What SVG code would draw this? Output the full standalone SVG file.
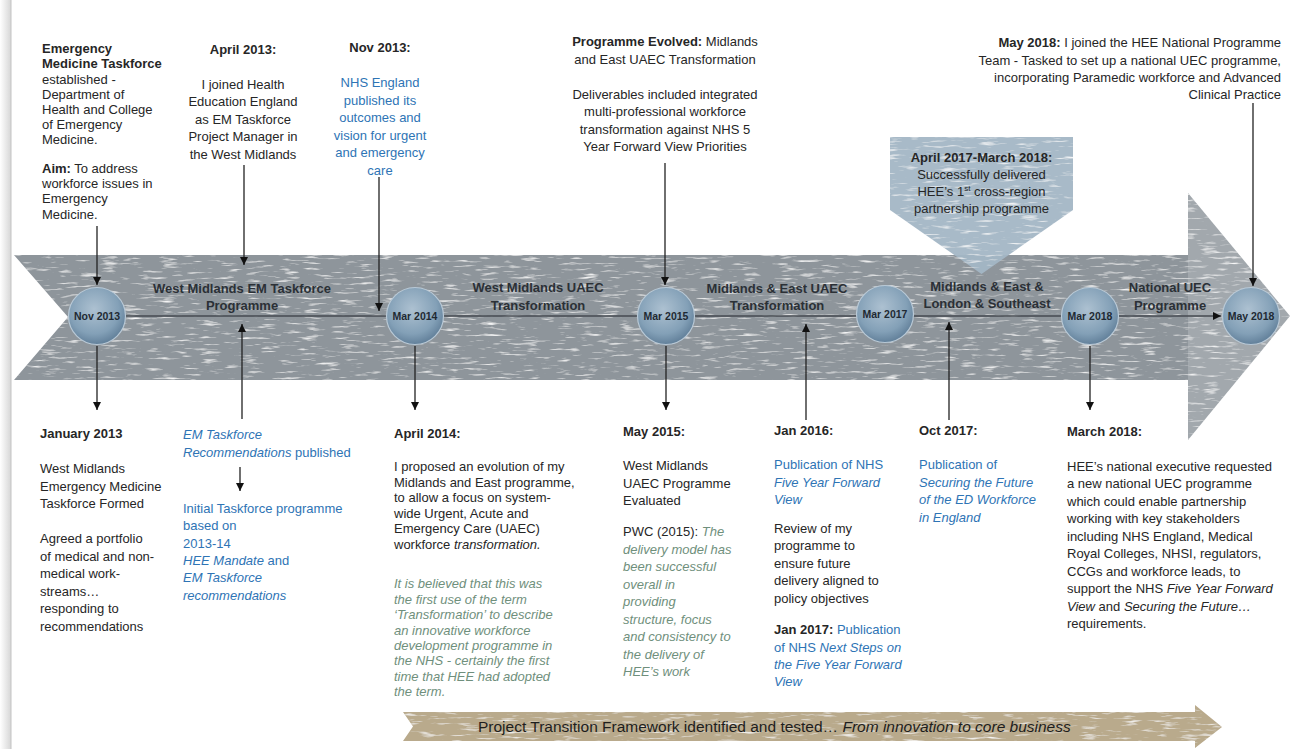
<svg xmlns="http://www.w3.org/2000/svg" width="1293" height="749" viewBox="0 0 1293 749">
<defs>
<style>
.t{font-family:"Liberation Sans",Arial,sans-serif;font-size:13px;fill:#262626}
.b{font-weight:bold}
.i{font-style:italic}
.blue{fill:#2e74b5}
.green{fill:#6f8f7c;font-style:italic}
.mid{text-anchor:middle}
.end{text-anchor:end}
.bandlbl{font-family:"Liberation Sans",Arial,sans-serif;font-size:13px;font-weight:bold;fill:#2b3036;text-anchor:middle}
.ball{font-family:"Liberation Sans",Arial,sans-serif;font-size:10.5px;font-weight:bold;fill:#1f2a33;text-anchor:middle}
.con{stroke:#222;stroke-width:1.3;fill:none;marker-end:url(#ah)}
.tl{stroke:#454a50;stroke-width:1.5;fill:none}
.circ{fill:url(#ballg);stroke:#b9c9d6;stroke-width:1.2}
</style>
<marker id="ah" viewBox="0 0 10 10" refX="10" refY="5" markerWidth="9" markerHeight="8" markerUnits="userSpaceOnUse" orient="auto">
<path d="M0,0 L10,5 L0,10 z" fill="#111"/>
</marker>
<radialGradient id="ballg" cx="45%" cy="38%" r="62%">
<stop offset="0" stop-color="#adc1d1"/>
<stop offset="0.7" stop-color="#83a0b7"/>
<stop offset="1" stop-color="#62809a"/>
</radialGradient>
<linearGradient id="shadow" x1="0" y1="0" x2="1" y2="0">
<stop offset="0" stop-color="#ffffff"/>
<stop offset="1" stop-color="#d6d6d6"/>
</linearGradient>
<filter id="tex" x="0" y="0" width="100%" height="100%">
<feTurbulence type="fractalNoise" baseFrequency="0.05 0.35" numOctaves="3" seed="11" result="n"/>
<feColorMatrix in="n" type="matrix" values="0 0 0 0 1  0 0 0 0 1  0 0 0 0 1  2.6 0 0 0 -1.5" result="w"/>
<feComposite in="w" in2="SourceGraphic" operator="in" result="wc"/>
<feMerge><feMergeNode in="SourceGraphic"/><feMergeNode in="wc"/></feMerge>
</filter>
</defs>

<rect x="0" y="0" width="1293" height="749" fill="#ffffff"/>
<rect x="0" y="0" width="11" height="749" fill="url(#shadow)"/>
<line x1="11" y1="0" x2="11" y2="749" stroke="#c4c4c4" stroke-width="1"/>

<g id="timeline-arrow" filter="url(#tex)">
<polygon points="14,255 1188,255 1188,380 14,380 68,317" fill="#8e959b"/>
<polygon points="1188,193 1290,316 1188,440" fill="#a2a8ad"/>
</g>

<g id="callout-2017" filter="url(#tex)">
<polygon points="890,137 1073,137 1073,210 981.5,274 890,210" fill="#a3b6c5" opacity="0.95"/>
</g>
<g id="callout-2017-text">
<text class="t mid" x="981.5" y="162"><tspan class="b">April 2017-March 2018:</tspan></text>
<text class="t mid" x="981.5" y="179">Successfully delivered</text>
<text class="t mid" x="981.5" y="196">HEE’s 1<tspan font-size="8" dy="-5">st</tspan><tspan dy="5"> cross-region</tspan></text>
<text class="t mid" x="981.5" y="212.5">partnership programme</text>
</g>

<g id="transition-arrow" filter="url(#tex)">
<polygon points="403,712 1195,712 1195,705 1222,727 1195,748 1195,741 403,741 413,726.5" fill="#b9aa8c"/>
</g>
<text class="t" x="478" y="732" style="font-size:15.5px;fill:#1e1e1e">Project Transition Framework identified and tested… <tspan class="i">From innovation to core business</tspan></text>

<g id="connectors">
<line class="tl" x1="126" y1="316" x2="1221" y2="316" style="marker-end:url(#ah)"/>
<line class="con" x1="97" y1="226" x2="97" y2="285"/>
<line class="con" x1="244" y1="165" x2="244" y2="265"/>
<line class="con" x1="379" y1="177" x2="379" y2="311"/>
<line class="con" x1="665" y1="163" x2="665" y2="285"/>
<line class="con" x1="1253" y1="103" x2="1253" y2="286"/>
<line class="con" x1="97" y1="346" x2="97" y2="410"/>
<line class="con" x1="415" y1="346" x2="415" y2="410"/>
<line class="con" x1="666" y1="346" x2="666" y2="410"/>
<line class="con" x1="1090" y1="346" x2="1090" y2="410"/>
<line class="con" x1="242" y1="419" x2="242" y2="324"/>
<line class="con" x1="806" y1="420" x2="806" y2="324"/>
<line class="con" x1="949" y1="420" x2="949" y2="322"/>
<line class="con" x1="240" y1="467" x2="240" y2="491"/>
</g>

<g id="band-labels">
<text class="bandlbl" x="242" y="292.5">West Midlands EM Taskforce</text>
<text class="bandlbl" x="242" y="310">Programme</text>
<text class="bandlbl" x="538" y="292">West Midlands UAEC</text>
<text class="bandlbl" x="538" y="309.5">Transformation</text>
<text class="bandlbl" x="777" y="292.5">Midlands &amp; East UAEC</text>
<text class="bandlbl" x="777" y="310">Transformation</text>
<text class="bandlbl" x="987" y="291">Midlands &amp; East &amp;</text>
<text class="bandlbl" x="987" y="308">London &amp; Southeast</text>
<text class="bandlbl" x="1170" y="291.5">National UEC</text>
<text class="bandlbl" x="1170" y="309.5">Programme</text>
</g>

<g id="node-nov2013"><circle class="circ" cx="97" cy="316" r="28.5"/><text class="ball" x="97" y="319.5">Nov 2013</text></g>
<g id="node-mar2014"><circle class="circ" cx="415" cy="316" r="28.5"/><text class="ball" x="415" y="319.5">Mar 2014</text></g>
<g id="node-mar2015"><circle class="circ" cx="666" cy="316" r="28.5"/><text class="ball" x="666" y="319.5">Mar 2015</text></g>
<g id="node-mar2017"><circle class="circ" cx="885" cy="314" r="28.5"/><text class="ball" x="885" y="317.5">Mar 2017</text></g>
<g id="node-mar2018"><circle class="circ" cx="1090" cy="316" r="28.5"/><text class="ball" x="1090" y="319.5">Mar 2018</text></g>
<g id="node-may2018"><circle class="circ" cx="1251" cy="316" r="28.5"/><text class="ball" x="1251" y="319.5">May 2018</text></g>

<g id="note-em-taskforce">
<text class="t b" x="42" y="53">Emergency</text>
<text class="t b" x="42" y="68">Medicine Taskforce</text>
<text class="t" x="42" y="83.5">established -</text>
<text class="t" x="42" y="98.5">Department of</text>
<text class="t" x="42" y="114">Health and College</text>
<text class="t" x="42" y="129">of Emergency</text>
<text class="t" x="42" y="144">Medicine.</text>
<text class="t" x="42" y="173"><tspan class="b">Aim:</tspan> To address</text>
<text class="t" x="42" y="188">workforce issues in</text>
<text class="t" x="42" y="203">Emergency</text>
<text class="t" x="42" y="218.5">Medicine.</text>
</g>

<g id="note-apr2013">
<text class="t b mid" x="243" y="54">April 2013:</text>
<text class="t mid" x="243" y="88.5">I joined Health</text>
<text class="t mid" x="243" y="106">Education England</text>
<text class="t mid" x="243" y="123.5">as EM Taskforce</text>
<text class="t mid" x="243" y="141">Project Manager in</text>
<text class="t mid" x="243" y="158.5">the West Midlands</text>
</g>

<g id="note-nov2013">
<text class="t b mid" x="380" y="52">Nov 2013:</text>
<text class="t blue mid" x="380" y="87">NHS England</text>
<text class="t blue mid" x="380" y="104.5">published its</text>
<text class="t blue mid" x="380" y="122">outcomes  and</text>
<text class="t blue mid" x="380" y="139.5">vision for urgent</text>
<text class="t blue mid" x="380" y="157">and emergency</text>
<text class="t blue mid" x="380" y="174.5">care</text>
</g>

<g id="note-programme-evolved">
<text class="t mid" x="665" y="46"><tspan class="b">Programme Evolved:</tspan> Midlands</text>
<text class="t mid" x="665" y="63.5">and East UAEC Transformation</text>
<text class="t mid" x="665" y="98.5">Deliverables included integrated</text>
<text class="t mid" x="665" y="116">multi-professional workforce</text>
<text class="t mid" x="665" y="133.5">transformation against NHS 5</text>
<text class="t mid" x="665" y="151">Year Forward View Priorities</text>
</g>

<g id="note-may2018">
<text class="t end" x="1281" y="46.5"><tspan class="b">May 2018:</tspan> I joined the HEE National Programme</text>
<text class="t end" x="1281" y="64.5">Team - Tasked to set up a national UEC programme,</text>
<text class="t end" x="1281" y="81.5">incorporating Paramedic workforce and Advanced</text>
<text class="t end" x="1281" y="99">Clinical Practice</text>
</g>

<g id="note-jan2013">
<text class="t b" x="40" y="438">January 2013</text>
<text class="t" x="40" y="473">West Midlands</text>
<text class="t" x="40" y="490.5">Emergency Medicine</text>
<text class="t" x="40" y="508">Taskforce Formed</text>
<text class="t" x="40" y="543">Agreed a portfolio</text>
<text class="t" x="40" y="560.5">of medical and non-</text>
<text class="t" x="40" y="578">medical  work-</text>
<text class="t" x="40" y="595.5">streams…</text>
<text class="t" x="40" y="613">responding to</text>
<text class="t" x="40" y="630.5">recommendations</text>
</g>

<g id="note-em-recs">
<text class="t blue i" x="183" y="439">EM Taskforce</text>
<text class="t blue" x="183" y="456.5"><tspan class="i">Recommendations</tspan> published</text>
<text class="t blue" x="183" y="513">Initial Taskforce programme</text>
<text class="t blue" x="183" y="530">based on</text>
<text class="t blue" x="183" y="547.5">2013-14</text>
<text class="t blue" x="183" y="564.5"><tspan class="i">HEE Mandate</tspan> and</text>
<text class="t blue i" x="183" y="582">EM Taskforce</text>
<text class="t blue i" x="183" y="599.5">recommendations</text>
</g>

<g id="note-apr2014">
<text class="t b" x="394" y="437.5">April 2014:</text>
<text class="t" x="394" y="470.5">I proposed an evolution of my</text>
<text class="t" x="394" y="486.5">Midlands and East programme,</text>
<text class="t" x="394" y="502">to allow a focus on system-</text>
<text class="t" x="394" y="517.5">wide Urgent, Acute and</text>
<text class="t" x="394" y="533">Emergency Care (UAEC)</text>
<text class="t" x="394" y="548.5">workforce <tspan class="i">transformation.</tspan></text>
<text class="t green" x="394" y="588">It is believed that this was</text>
<text class="t green" x="394" y="603.5">the first use of the term</text>
<text class="t green" x="394" y="619">‘Transformation’ to describe</text>
<text class="t green" x="394" y="634.5">an innovative workforce</text>
<text class="t green" x="394" y="650">development programme in</text>
<text class="t green" x="394" y="665">the NHS - certainly the first</text>
<text class="t green" x="394" y="680.5">time that HEE had adopted</text>
<text class="t green" x="394" y="695.5">the term.</text>
</g>

<g id="note-may2015">
<text class="t b" x="623" y="436">May 2015:</text>
<text class="t" x="623" y="470">West Midlands</text>
<text class="t" x="623" y="488">UAEC Programme</text>
<text class="t" x="623" y="504.5">Evaluated</text>
<text class="t" x="623" y="536">PWC (2015):<tspan class="green"> The</tspan></text>
<text class="t green" x="623" y="553.5">delivery model has</text>
<text class="t green" x="623" y="571">been successful</text>
<text class="t green" x="623" y="588.5">overall in</text>
<text class="t green" x="623" y="606">providing</text>
<text class="t green" x="623" y="623.5">structure, focus</text>
<text class="t green" x="623" y="641">and consistency to</text>
<text class="t green" x="623" y="658.5">the delivery of</text>
<text class="t green" x="623" y="676">HEE’s work</text>
</g>

<g id="note-jan2016">
<text class="t b" x="774" y="434.5">Jan 2016:</text>
<text class="t blue" x="774" y="469">Publication of NHS</text>
<text class="t blue i" x="774" y="486.5">Five Year Forward</text>
<text class="t blue i" x="774" y="504">View</text>
<text class="t" x="774" y="532.5">Review of my</text>
<text class="t" x="774" y="550">programme to</text>
<text class="t" x="774" y="567.5">ensure future</text>
<text class="t" x="774" y="585">delivery aligned to</text>
<text class="t" x="774" y="602.5">policy objectives</text>
<text class="t" x="774" y="634"><tspan class="b">Jan 2017:</tspan><tspan class="blue"> Publication</tspan></text>
<text class="t blue" x="774" y="651.5">of NHS <tspan class="i">Next Steps on</tspan></text>
<text class="t blue i" x="774" y="669">the Five Year Forward</text>
<text class="t blue i" x="774" y="686">View</text>
</g>

<g id="note-oct2017">
<text class="t b" x="919" y="434.5">Oct 2017:</text>
<text class="t blue" x="919" y="469">Publication of</text>
<text class="t blue i" x="919" y="486.5">Securing the Future</text>
<text class="t blue i" x="919" y="504">of the ED Workforce</text>
<text class="t blue i" x="919" y="521.5">in England</text>
</g>

<g id="note-mar2018">
<text class="t b" x="1067" y="435.5">March 2018:</text>
<text class="t" x="1067" y="470.5">HEE’s national executive requested</text>
<text class="t" x="1067" y="488">a new national UEC programme</text>
<text class="t" x="1067" y="505.5">which could enable partnership</text>
<text class="t" x="1067" y="523">working with key stakeholders</text>
<text class="t" x="1067" y="540.5">including NHS England, Medical</text>
<text class="t" x="1067" y="558">Royal Colleges, NHSI, regulators,</text>
<text class="t" x="1067" y="575.5">CCGs and workforce leads, to</text>
<text class="t" x="1067" y="593">support the NHS <tspan class="i">Five Year Forward</tspan></text>
<text class="t" x="1067" y="610.5"><tspan class="i">View</tspan> and <tspan class="i">Securing the Future…</tspan></text>
<text class="t" x="1067" y="628">requirements.</text>
</g>
</svg>
